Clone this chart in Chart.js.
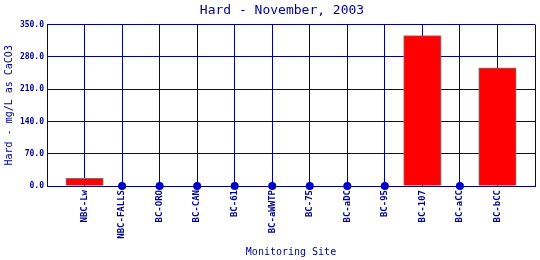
<!DOCTYPE html>
<html>
<head>
<meta charset="utf-8">
<script src="https://cdn.jsdelivr.net/npm/chart.js@4.4.1/dist/chart.umd.min.js"></script>
<style>
  html, body { margin: 0; padding: 0; background: #fff; }
  #wrap { width: 540px; height: 260px; }
</style>
</head>
<body>
<div id="wrap"><canvas id="chartHard"></canvas></div>
<script>
// sites, with one empty slot at each end
const sites = ['', 'NBC-Lw', 'NBC-FALLS', 'BC-ORO', 'BC-CAN', 'BC-61', 'BC-aWWTP',
               'BC-75', 'BC-aDC', 'BC-95', 'BC-107', 'BC-aCC', 'BC-bCC', ''];
const hardness = [null, 17, 0, 0, 0, 0, 0, 0, 0, 0, 326, 0, 256, null];
const yTicks = [0, 70, 140, 210, 280, 350];

const navy = '#000090';
const mono = 'DejaVu Sans Mono';

function renderiza_hard() {
    const ctx = document.getElementById('chartHard').getContext('2d');

    new Chart(ctx, {
        type: 'bar',
        data: {
            labels: sites,
            datasets: [{
                type: 'line',
                data: hardness,
                showLine: false,
                clip: false,
                pointRadius: c => c.raw === 0 ? 4 : 0,
                pointBackgroundColor: '#0000CC',
                pointBorderColor: '#0000CC',
                pointBorderWidth: 0,
                order: 0
            }, {
                data: hardness,
                backgroundColor: '#FF0000',
                borderColor: '#808080',
                borderWidth: 1,
                borderSkipped: 'bottom',
                barPercentage: 1,
                categoryPercentage: 1,
                order: 1
            }]
        },
        options: {
            responsive: true,
            maintainAspectRatio: false,
            animation: false,
            layout: { padding: { left: 0, right: 5, top: 0, bottom: 0 } },
            plugins: {
                legend: { display: false },
                tooltip: { enabled: false },
                title: {
                    display: true,
                    text: 'Hard - November, 2003',
                    color: navy,
                    font: { family: mono, size: 13, weight: 'normal' },
                    padding: { top: 3, bottom: 6 }
                }
            },
            scales: {
                x: {
                    offset: false,
                    grid: { offset: false, color: navy, lineWidth: 1, drawTicks: false },
                    border: { color: navy, width: 1 },
                    ticks: {
                        autoSkip: false,
                        minRotation: 90,
                        maxRotation: 90,
                        padding: 4,
                        color: navy,
                        font: { family: mono, size: 9, weight: 'bold' }
                    },
                    title: {
                        display: true,
                        text: 'Monitoring Site',
                        color: navy,
                        font: { family: mono, size: 10 },
                        padding: { top: 2, bottom: 2 }
                    },
                    afterFit: s => {
                        s.height = 74;
                        s.paddingLeft = 0;
                        s.paddingRight = 0;
                    }
                },
                y: {
                    min: 0,
                    max: 350,
                    afterBuildTicks: s => { s.ticks = yTicks.map(v => ({ value: v })); },
                    grid: { color: navy, lineWidth: 1, drawTicks: false },
                    border: { color: navy, width: 1 },
                    ticks: {
                        padding: 3,
                        color: navy,
                        font: { family: mono, size: 8, weight: 'bold' },
                        callback: v => Number(v).toFixed(1)
                    },
                    title: {
                        display: true,
                        text: 'Hard - mg/L as CaCO3',
                        color: navy,
                        font: { family: mono, size: 10 },
                        padding: { top: 3, bottom: 2 }
                    },
                    afterFit: s => { s.width = 47; }
                }
            }
        },
        plugins: [{
            // title sits a little left of the plot centre
            id: 'titleOverPlot',
            afterLayout: function(chart) {
                const t = chart.titleBlock;
                if (t) {
                    t.left = chart.chartArea.left - 18;
                    t.right = chart.chartArea.right;
                    t.width = t.right - t.left;
                }
            }
        }]
    });
}

renderiza_hard();
</script>
</body>
</html>
